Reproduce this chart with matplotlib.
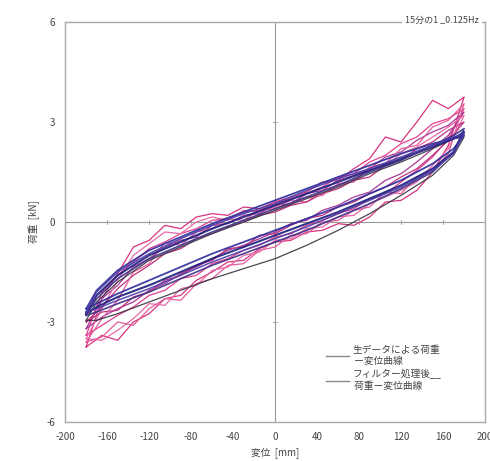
import matplotlib
matplotlib.use("Agg")
import matplotlib.pyplot as plt
from matplotlib.lines import Line2D

plt.rcParams['font.family'] = ['Noto Sans CJK JP', 'DejaVu Sans']
plt.rcParams['axes.unicode_minus'] = False

# 変位 [mm] の刻み（生データ）
x_raw = [-180, -165, -150, -135, -120, -105, -90, -75, -60, -45, -30, -15, 0,
         15, 30, 45, 60, 75, 90, 105, 120, 135, 150, 165, 180]

# 生データ: 各ループの上側（除荷）と下側（載荷）の荷重 [kN]
raw1_upper = [-3.75, -2.3, -1.55, -0.75, -0.55, -0.1, -0.2, 0.15, 0.25, 0.2, 0.45, 0.4, 0.6,
              0.75, 0.9, 1.2, 1.25, 1.6, 1.9, 2.55, 2.4, 3.0, 3.65, 3.4, 3.75]
raw1_lower = [-3.75, -3.4, -3.55, -3.0, -2.75, -2.3, -2.2, -1.75, -1.5, -1.2, -1.15, -0.8, -0.6,
              -0.55, -0.3, -0.25, -0.05, -0.1, 0.15, 0.6, 0.65, 0.95, 1.5, 2.3, 3.75]
raw2_upper = [-3.4, -2.1, -1.6, -1.2, -0.8, -0.6, -0.35, -0.2, 0.05, 0.1, 0.3, 0.35, 0.55,
              0.7, 0.85, 1.05, 1.35, 1.45, 1.8, 2.0, 2.35, 2.55, 2.95, 3.1, 3.4]
raw2_lower = [-3.4, -3.1, -2.8, -2.55, -2.2, -2.05, -1.7, -1.6, -1.25, -1.1, -0.85, -0.7, -0.45,
              -0.35, -0.1, 0.05, 0.25, 0.4, 0.7, 0.85, 1.2, 1.55, 1.95, 2.5, 3.4]
raw3_upper = [-3.2, -2.3, -1.9, -1.35, -1.1, -0.75, -0.55, -0.45, -0.1, -0.05, 0.2, 0.25, 0.5,
              0.55, 0.85, 0.95, 1.25, 1.4, 1.6, 1.95, 2.1, 2.45, 2.7, 2.9, 3.3]
raw3_lower = [-3.2, -2.85, -2.6, -2.4, -2.05, -1.85, -1.55, -1.35, -1.1, -0.85, -0.7, -0.5, -0.3,
              -0.05, 0.05, 0.35, 0.5, 0.75, 0.9, 1.25, 1.45, 1.8, 2.2, 2.6, 3.3]
raw4_upper = [-3.5, -2.6, -1.75, -1.0, -0.65, -0.3, -0.35, 0.0, 0.15, 0.05, 0.35, 0.3, 0.45,
              0.65, 0.6, 0.95, 1.1, 1.3, 1.55, 1.7, 2.05, 2.25, 2.55, 2.85, 3.2]
raw4_lower = [-3.5, -3.55, -3.25, -2.9, -2.45, -2.5, -2.0, -1.9, -1.45, -1.35, -1.0, -0.9, -0.55,
              -0.5, -0.2, -0.15, 0.15, 0.2, 0.55, 0.75, 0.95, 1.2, 1.7, 2.2, 3.2]
raw5_upper = [-3.0, -2.55, -2.0, -1.6, -1.3, -0.95, -0.8, -0.5, -0.35, -0.15, 0.0, 0.2, 0.3,
              0.5, 0.6, 0.85, 1.0, 1.25, 1.35, 1.7, 1.85, 2.2, 2.4, 2.75, 3.0]
raw5_lower = [-3.0, -2.7, -2.65, -2.25, -2.1, -1.75, -1.6, -1.3, -1.15, -0.8, -0.75, -0.4, -0.35,
              -0.1, 0.1, 0.2, 0.45, 0.6, 0.85, 1.05, 1.35, 1.6, 2.0, 2.45, 3.0]
raw6_upper = [-3.6, -2.9, -2.35, -1.5, -1.25, -0.6, -0.7, -0.3, -0.2, 0.1, 0.05, 0.35, 0.4,
              0.55, 0.75, 0.8, 1.15, 1.2, 1.65, 1.75, 2.2, 2.3, 2.85, 3.05, 3.55]
raw6_lower = [-3.6, -3.45, -3.0, -3.1, -2.6, -2.3, -2.35, -1.85, -1.7, -1.3, -1.25, -0.85, -0.75,
              -0.4, -0.35, 0.0, 0.05, 0.35, 0.45, 0.9, 0.85, 1.35, 1.55, 2.05, 3.55]

# フィルター処理後
x_filt = [-180, -170, -150, -120, -90, -60, -30, 0, 30, 60, 90, 120, 150, 170, 180]
filtA_upper = [-2.75, -2.2, -1.6, -1.0, -0.6, -0.2, 0.15, 0.5, 0.85, 1.2, 1.55, 1.9, 2.25, 2.5, 2.7]
filtA_lower = [-2.75, -2.55, -2.25, -1.9, -1.5, -1.1, -0.75, -0.4, -0.05, 0.3, 0.7, 1.1, 1.6, 2.1, 2.7]
filtB_upper = [-2.6, -2.05, -1.45, -0.85, -0.45, -0.05, 0.3, 0.65, 1.0, 1.35, 1.7, 2.05, 2.35, 2.5, 2.6]
filtB_lower = [-2.6, -2.45, -2.15, -1.75, -1.35, -0.95, -0.6, -0.25, 0.1, 0.45, 0.85, 1.25, 1.75, 2.2, 2.6]
filtC_upper = [-2.95, -2.4, -1.8, -1.15, -0.75, -0.35, 0.0, 0.35, 0.7, 1.05, 1.45, 1.8, 2.2, 2.5, 2.55]
filtC_lower = [-2.95, -2.95, -2.75, -2.4, -2.05, -1.7, -1.4, -1.1, -0.7, -0.25, 0.25, 0.8, 1.4, 2.0, 2.55]
filtD_upper = [-2.8, -2.3, -1.7, -1.1, -0.7, -0.3, 0.05, 0.4, 0.75, 1.1, 1.5, 1.85, 2.3, 2.6, 2.8]
filtD_lower = [-2.8, -2.7, -2.45, -2.1, -1.7, -1.3, -0.95, -0.6, -0.25, 0.15, 0.55, 1.0, 1.5, 2.1, 2.8]
filtE_upper = [-2.7, -2.1, -1.5, -0.95, -0.5, -0.1, 0.25, 0.55, 0.95, 1.3, 1.6, 1.95, 2.3, 2.55, 2.65]
filtE_lower = [-2.7, -2.6, -2.35, -2.0, -1.6, -1.2, -0.85, -0.5, -0.15, 0.25, 0.65, 1.05, 1.55, 2.05, 2.65]

x_ticks = [-200, -160, -120, -80, -40, 0, 40, 80, 120, 160, 200]
y_ticks = [-6, -3, 0, 3, 6]


def loop(x, upper, lower):
    # 下側を左から右へ、上側を右から左へたどって閉じたループにする
    return list(x) + list(x[::-1]), list(lower) + list(upper[::-1])


fig = plt.figure(figsize=(4.9, 4.61), dpi=100)
ax = fig.add_axes([0.133, 0.0846, 0.857, 0.8677])

# 原点を通る軸線
ax.axhline(0, color='#9a9a9a', lw=0.8, zorder=1)
ax.axvline(0, color='#9a9a9a', lw=0.8, zorder=1)
for t in x_ticks:
    ax.plot([t, t], [-0.07, 0.07], color='#9a9a9a', lw=0.6, zorder=1)
for t in y_ticks:
    ax.plot([-2, 2], [t, t], color='#9a9a9a', lw=0.6, zorder=1)

raw = [(raw1_upper, raw1_lower, '#d8337f'),
       (raw2_upper, raw2_lower, '#e0408f'),
       (raw3_upper, raw3_lower, '#a83a98'),
       (raw4_upper, raw4_lower, '#e86aa6'),
       (raw5_upper, raw5_lower, '#c0307f'),
       (raw6_upper, raw6_lower, '#e35d9c')]
for up, lo, c in raw:
    xs, ys = loop(x_raw, up, lo)
    ax.plot(xs, ys, color=c, lw=0.9, zorder=2)

filt = [(filtC_upper, filtC_lower, '#33333f', 0.9),
        (filtA_upper, filtA_lower, '#1c1f7e', 1.5),
        (filtB_upper, filtB_lower, '#2d2c9c', 1.3),
        (filtD_upper, filtD_lower, '#3b2f86', 1.2),
        (filtE_upper, filtE_lower, '#4a3aa8', 1.1)]
for up, lo, c, w in filt:
    xs, ys = loop(x_filt, up, lo)
    ax.plot(xs, ys, color=c, lw=w, zorder=3, alpha=0.9)

ax.set_xlim(-200, 200)
ax.set_ylim(-6, 6)
ax.set_xticks(x_ticks)
ax.set_yticks(y_ticks)
ax.tick_params(length=0, pad=7, labelsize=7, colors='#444444')
for s in ax.spines.values():
    s.set_color('#a8a8a8')
    s.set_linewidth(1.0)

ax.set_xlabel('変位  [mm]', fontsize=7, color='#444444', labelpad=4)
ax.set_ylabel('荷重  [kN]', fontsize=7, color='#444444', labelpad=5)

handles = [Line2D([], [], color='#8a8a8a', lw=1.0),
           Line2D([], [], color='#8a8a8a', lw=1.0)]
labels = ['生データによる荷重\n ー変位曲線', 'フィルター処理後__\n 荷重ー変位曲線']
ax.legend(handles, labels, loc='upper left', bbox_to_anchor=(0.6, 0.215),
          frameon=False, fontsize=7, handlelength=2.4, handletextpad=0.3,
          labelspacing=0.3, labelcolor='#444444')

fig.text(0.827, 0.955, '15分の1 _0.125Hz', fontsize=6.5, color='#444444',
         va='center', ha='left',
         bbox=dict(facecolor='white', edgecolor='none', pad=2))

fig.savefig('out.png', dpi=100)
